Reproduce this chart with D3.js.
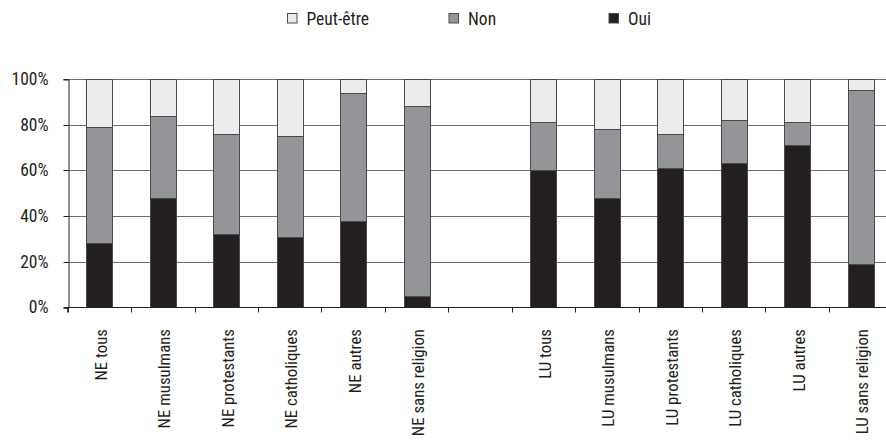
<!DOCTYPE html>
<html><head><meta charset="utf-8">
<script src="https://cdn.jsdelivr.net/npm/d3@7"></script>
<style>
body{margin:0;background:#fff;}
text{font-family:"Liberation Sans Narrow","Roboto Condensed","Liberation Sans",sans-serif;fill:#231f20;}
</style></head>
<body><svg id="c" width="886" height="440"></svg>
<script>
const categories = ["NE tous","NE musulmans","NE protestants","NE catholiques","NE autres","NE sans religion","",
  "LU tous","LU musulmans","LU protestants","LU catholiques","LU autres","LU sans religion"];
const oui      = [28,48,32,31,38,5,null,60,48,61,63,71,19];
const non      = [51,36,44,44,56,83,null,21,30,15,19,10,76];
const peutEtre = [21,16,24,25,6,12,null,19,22,24,18,19,5];
const seriesNames = ["Oui","Non","Peut-être"];
const seriesColors = ["#231f20","#939598","#ececec"];
const yTicks = [0,20,40,60,80,100];

const svg = d3.select("#c");
const x0 = 67.7, x1 = 892.3, yTop = 79, yBot = 307.3;
const x = d3.scaleBand().domain(d3.range(categories.length)).range([x0,x1]).paddingInner(0.59).paddingOuter(0.295);
const xb = d3.scaleBand().domain(d3.range(categories.length)).range([x0,x1]);
const y = d3.scaleLinear().domain([0,100]).range([yBot,yTop]);

// gridlines
svg.append("g").selectAll("line").data(yTicks.filter(d=>d>0)).join("line")
  .attr("x1",x0).attr("x2",886).attr("y1",d=>Math.round(y(d))+0.5).attr("y2",d=>Math.round(y(d))+0.5)
  .attr("stroke","#6e6e6e").attr("stroke-width",1.2);

// y axis
const yAxis = d3.axisLeft(y).tickValues(yTicks).tickFormat(d=>d+"%").tickSize(5).tickPadding(15);
const ga = svg.append("g").attr("transform",`translate(${Math.round(x0)+0.5},0.5)`).call(yAxis);
ga.select(".domain").attr("stroke","#231f20");
ga.selectAll(".tick line").attr("stroke","#231f20");
ga.selectAll("text").attr("font-size",17.5).style("fill","#231f20");
ga.selectAll(".tick").attr("transform",d=>`translate(0,${Math.round(y(d))})`);

// bars
const rows = categories.map((c,i)=>({i, Oui:oui[i]||0, Non:non[i]||0, "Peut-être":peutEtre[i]||0}));
const stack = d3.stack().keys(seriesNames)(rows);
svg.append("g").selectAll("g").data(stack).join("g")
  .attr("fill",(d,k)=>seriesColors[k])
  .selectAll("rect").data(d=>d.filter(p=>p[1]>p[0])).join("rect")
  .attr("x",p=>Math.round(x(p.data.i))+0.5)
  .attr("width",Math.round(x.bandwidth()))
  .attr("y",p=>Math.round(y(p[1]))+0.5)
  .attr("height",p=>Math.round(y(p[0]))-Math.round(y(p[1])))
  .attr("stroke","#4a4a4a").attr("stroke-width",1);

// x axis
const xAxis = d3.axisBottom(xb).tickFormat(()=> "").tickSize(5);
const gx = svg.append("g").attr("transform",`translate(0,${Math.round(yBot)+0.5})`).call(xAxis);
gx.select(".domain").attr("d",`M${x0},5V0H${x1}V5`).attr("stroke","#231f20");
gx.selectAll(".tick").attr("transform",(d,i)=>`translate(${Math.round(x0+i*xb.bandwidth())+0.5},0)`);
gx.selectAll(".tick line").attr("stroke","#231f20");
svg.append("g").selectAll("text").data(categories).join("text")
  .attr("transform",(d,i)=>`translate(${xb(i)+xb.bandwidth()/2+7.5},329) rotate(-90)`)
  .attr("text-anchor","end").attr("font-size",16.8).text(d=>d);

// legend
const legendX = [287,448.5,608.5];
const order = [2,1,0];
const lg = svg.append("g").selectAll("g").data(order).join("g")
  .attr("transform",(k,j)=>`translate(${legendX[j]},0)`);
lg.append("rect").attr("x",0.5).attr("y",13.5).attr("width",9.5).attr("height",9.5)
  .attr("fill",k=>seriesColors[k]).attr("stroke","#4a4a4a");
lg.append("text").attr("x",19.5).attr("y",25).attr("font-size",17.5).text(k=>seriesNames[k]);
</script></body></html>
